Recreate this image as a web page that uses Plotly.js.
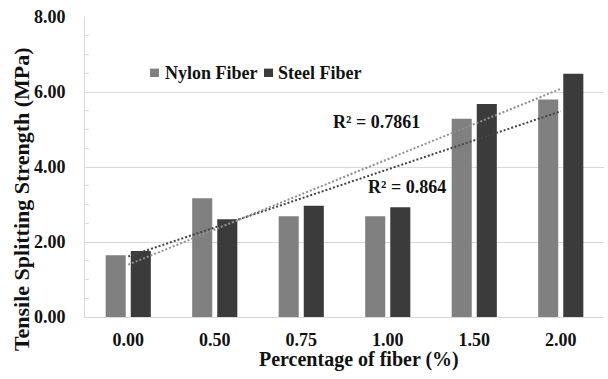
<!DOCTYPE html>
<html><head><meta charset="utf-8">
<script src="https://cdn.plot.ly/plotly-3.0.1.min.js"></script>
<style>html,body{margin:0;padding:0;background:#fff}#chart{width:608px;height:379px}</style>
</head><body><div id="chart"></div>
<script>
const categories = ["0.00", "0.50", "0.75", "1.00", "1.50", "2.00"];
const nylonFiber = [1.65, 3.17, 2.69, 2.69, 5.29, 5.80];
const steelFiber = [1.76, 2.61, 2.97, 2.93, 5.68, 6.49];
const seriesNames = ["Nylon Fiber", "Steel Fiber"];
const r2Labels = ["R² = 0.7861", "R² = 0.864"];
const xTitle = "Percentage of fiber (%)";
const yTitle = "Tensile Splitting Strength (MPa)";

// Excel-style linear trendline (least squares on category index 1..n)
function linearFit(vals) {
  const n = vals.length;
  const xs = vals.map((_, i) => i + 1);
  const mx = xs.reduce((a, b) => a + b, 0) / n;
  const my = vals.reduce((a, b) => a + b, 0) / n;
  let sxy = 0, sxx = 0;
  for (let i = 0; i < n; i++) { sxy += (xs[i] - mx) * (vals[i] - my); sxx += (xs[i] - mx) ** 2; }
  const b = sxy / sxx, a = my - b * mx;
  return xs.map(x => a + b * x);
}

const COL_NYLON = "#808080", COL_STEEL = "#3b3b3b";
const FONT = '"Liberation Serif", "Times New Roman", serif';

const traces = [
  { type: "bar", name: seriesNames[0], x: categories, y: nylonFiber, marker: { color: COL_NYLON }, showlegend: false },
  { type: "bar", name: seriesNames[1], x: categories, y: steelFiber, marker: { color: COL_STEEL }, showlegend: false },
  { type: "scatter", mode: "lines", name: "Linear (" + seriesNames[0] + ")", x: categories, y: linearFit(nylonFiber),
    line: { color: "#444444", width: 2, dash: "2px,2px" }, showlegend: false },
  { type: "scatter", mode: "lines", name: "Linear (" + seriesNames[1] + ")", x: categories, y: linearFit(steelFiber),
    line: { color: "#8f8f8f", width: 2, dash: "2px,2px" }, showlegend: false }
];

const boldFont = (size) => ({ family: FONT, size: size, color: "#111111", weight: "bold" });

const layout = {
  width: 608, height: 379,
  margin: { l: 85, r: 4, t: 17, b: 62 },
  paper_bgcolor: "#ffffff", plot_bgcolor: "#ffffff",
  barmode: "group", bargap: 0.42, bargroupgap: 0.2,
  font: { family: FONT, size: 18, color: "#111111" },
  showlegend: false,
  xaxis: {
    type: "category", range: [-0.5, 5.5],
    showline: true, linecolor: "#d9d9d9", linewidth: 1,
    showgrid: false, ticks: "", ticklabelstandoff: 6,
    tickfont: boldFont(18)
  },
  yaxis: {
    range: [0, 8], tickmode: "linear", tick0: 0, dtick: 2, tickformat: ".2f",
    showgrid: true, gridcolor: "#d9d9d9", gridwidth: 1,
    showline: true, linecolor: "#d9d9d9", linewidth: 1, zeroline: false,
    ticks: "", ticklabelstandoff: 15,
    tickfont: boldFont(18),
    minor: { dtick: 0.5, tick0: 0, ticks: "inside", ticklen: 4, tickcolor: "#d9d9d9", showgrid: false }
  },
  // legend swatches (decoration only)
  shapes: [
    { type: "rect", xref: "paper", yref: "paper", x0: 0.1252, x1: 0.1425, y0: 0.800, y1: 0.828, fillcolor: COL_NYLON, line: { width: 0 } },
    { type: "rect", xref: "paper", yref: "paper", x0: 0.3449, x1: 0.3622, y0: 0.800, y1: 0.828, fillcolor: COL_STEEL, line: { width: 0 } }
  ],
  annotations: [
    { xref: "paper", yref: "paper", x: 0.150, y: 0.814, xanchor: "left", yanchor: "middle", showarrow: false,
      text: seriesNames[0], font: boldFont(18) },
    { xref: "paper", yref: "paper", x: 0.3675, y: 0.814, xanchor: "left", yanchor: "middle", showarrow: false,
      text: seriesNames[1], font: boldFont(18) },
    { xref: "paper", yref: "paper", x: 0.5626, y: 0.651, xanchor: "center", yanchor: "middle", showarrow: false,
      text: r2Labels[0], font: boldFont(18) },
    { xref: "paper", yref: "paper", x: 0.620, y: 0.433, xanchor: "center", yanchor: "middle", showarrow: false,
      text: r2Labels[1], font: boldFont(18) },
    { xref: "paper", yref: "paper", x: 0.528, y: -0.14, xanchor: "center", yanchor: "middle", showarrow: false,
      text: xTitle, font: boldFont(20) },
    { xref: "paper", yref: "paper", x: -0.1233, y: 0.393, xanchor: "center", yanchor: "middle", showarrow: false,
      textangle: -90, text: yTitle, font: boldFont(22) }
  ]
};

Plotly.newPlot("chart", traces, layout, { displayModeBar: false, staticPlot: true });
</script>
</body></html>
